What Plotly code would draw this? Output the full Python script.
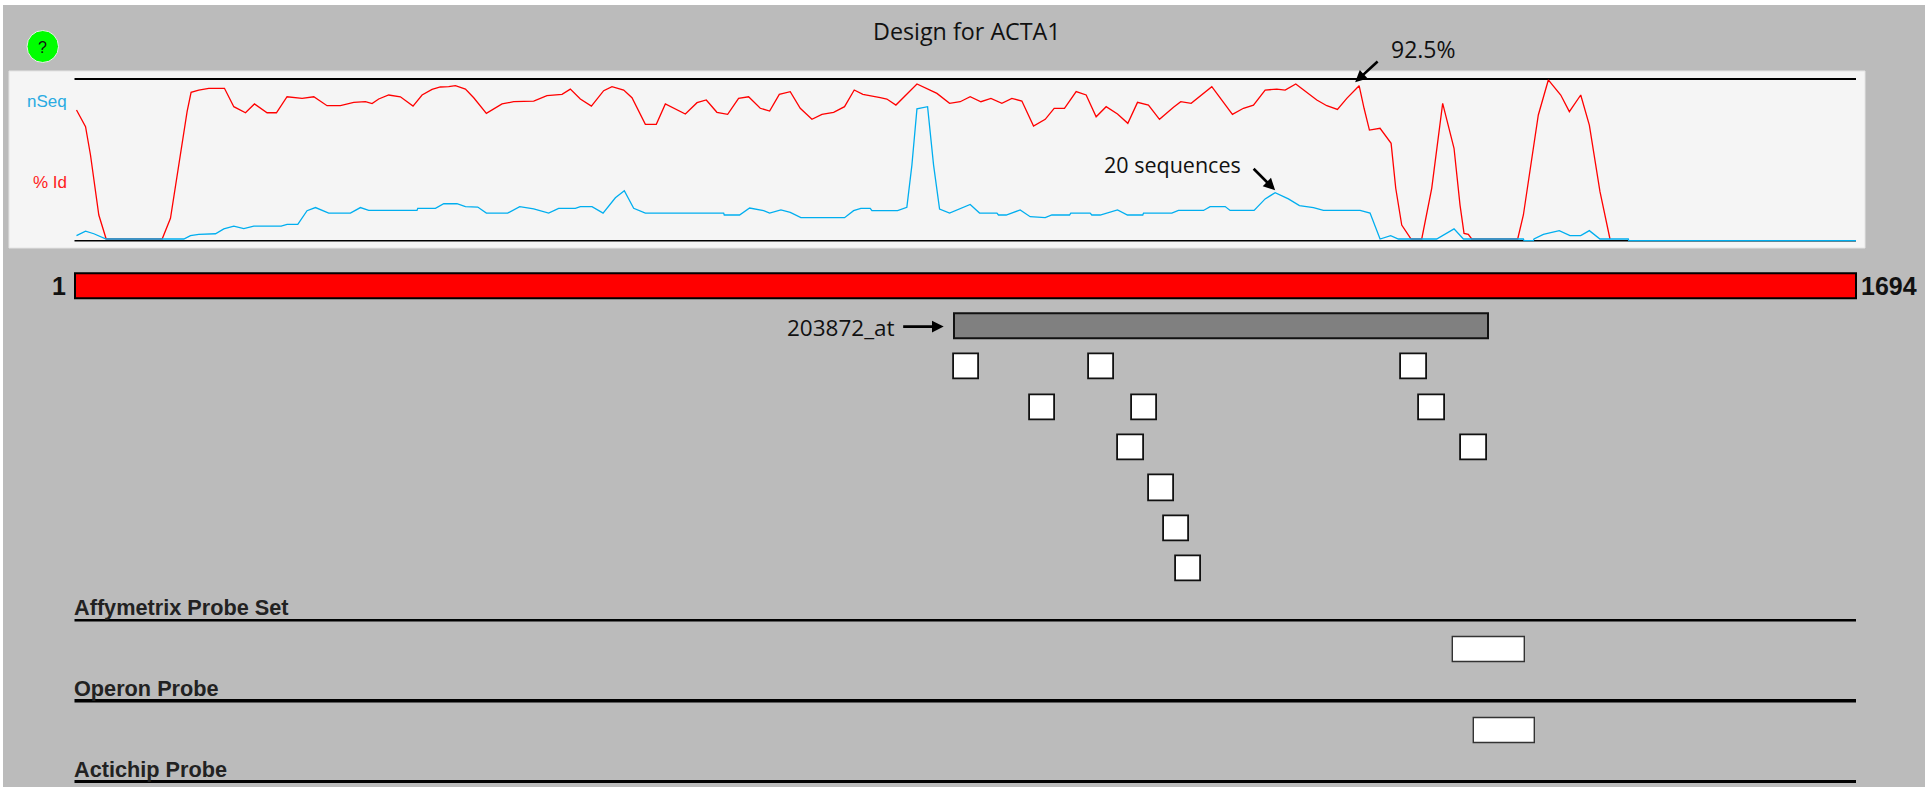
import plotly.graph_objects as go

W, H = 1930, 787

id_pos = [2.9,11.5,16.2,21,24.1,31.1,84.3,92.2,97.9,103.3,108,111.8,119.1,128.6,143.5,152.4,163.5,172,184,192.9,203,217.3,228.4,241,253.7,266.4,277.5,283.8,290.1,299.6,
 310.7,322.7,331.3,340.8,348.7,356.6,363,372.5,380.4,392.4,407.3,418.4,437.4,450,464.3,472.2,481.7,492.2,503.9,511.8,522.9,530.8,543.5,553.9,562.5,581.5,592.6,601.4,
 611.5,621.7,632.1,641.6,652.7,661.6,670.8,681.2,690.7,701.8,711.3,722.4,732.8,742,750.2,766.7,773,781.6,801.6,820.6,832.6,842.7,852.2,862.4,871.9,882.3,891.8,901.3,
 909.2,912.4,923.5,932,941.8,952.9,962.4,971.9,981.4,992.2,1002,1011.2,1021.6,1032.1,1045.4,1052.3,1062.2,1081.8,1101.4,1111.9,1121.4,1132.5,1143.6,1151.5,1161.6,1181.6,1191.1,1201.2,1210.1,
 1221.8,1226.5,1231.6,1241.7,1252.2,1256.6,1262.3,1271.2,1281.3,1290.8,1297.1,1301.2,1312,1317.7,1321.5,1325.6,1328.8,1372.5,1377.9,1386.7,1392.1,1401.6,1413.4,1421.6,1432.4,1440.6,1450.7,1460.2]
id_pct = [80.6,70.2,52.5,29.6,15,0,0,12.9,37.9,60.8,79.6,91.7,93.1,94.2,94.2,82.7,78.9,84.4,78.9,78.9,88.9,87.9,88.9,83.3,83.3,85.4,85.8,84.6,87.5,90,
 88.9,83.1,90,93.5,95,95.2,95.8,93.7,88.3,78.5,84.4,85.8,86.2,89.6,90.4,93.7,87.5,83.1,92.7,95.2,93.1,88.3,71.7,71.7,84.4,78.1,85.2,86.9,
 79.2,77.9,87.9,88.9,81.7,80,90.4,92.1,81.7,74.8,77.9,79.2,82.7,93.1,90.4,88.3,87.5,83.7,96.9,91,84.8,85.8,88.9,85.8,87.9,84.8,87.9,86.2,
 75.4,70.6,74.8,81.7,81.7,92.1,90,76.4,82.7,78.1,72.3,85.4,83.7,74.8,82.3,85.8,84.8,95.2,77.9,81.7,83.7,93.1,93.7,93.1,96.9,86.9,83.3,81,87.9,
 95.8,81.7,68.1,69.2,59.8,31.7,8.7,0,0,31.7,62.9,84.8,56.7,21.2,3.5,2.9,0,0,15,54.6,77.5,99.4,90,79.6,90,71.2,29.6,0]

seq_pos = [2.9,11.5,19.4,31.1,104.9,111.2,119.1,135,142.9,152.4,161.9,171.4,197.4,203,213.2,222,230,242.6,263.2,272.7,280.6,
 301.2,326.5,327.2,344,351.9,364.5,372.5,384.2,392.4,412.7,424.1,437.4,451.6,461.1,477,481.7,492.8,503.3,515,523.5,532.4,543.5,
 605.2,617.9,618.5,633,642.6,655.9,661.6,672.3,681.2,691.3,732.8,741.4,748.3,757.2,758.8,783.2,792,796.8,801.6,811.7,817.4,823.1,832.6,852.2,861.1,877.6,879.1,886.4,899.7,
 909.2,923.5,929.8,946.6,947.8,966.2,967.8,975.7,992.2,1001.7,1016.2,1016.9,1043.8,1050.1,1073.9,1080.2,1094.5,1099.2,1122,1132.5,1142,1154.6,1165.1,1178.4,1187.9,
 1213.2,1222.7,1232.2,1241.7,1251.8,1259.1,1295.5,1312,1320.9,1377.9,1378.5,1387.4,1388,1396.9,1412,1422.2,1432.4,1440.6,1450.7,1477.6,1478,1694]
seq_n = [2.1,4,2.9,0.7,0.7,2.1,2.6,2.9,4.9,6.1,5,6.1,6.1,6.8,6.8,12.5,13.8,11.5,11.5,13.8,12.6,
 12.6,12.6,13.5,13.5,15.4,15.4,14.2,14,11.5,11.5,14.2,13.3,11.5,13.5,13.5,14.2,14.2,11.5,17.9,20.8,13.5,11.5,
 11.5,11.5,10.7,10.7,13.6,12.5,11.5,12.8,11.8,9.6,9.6,12.5,13.5,13.5,12.5,12.5,13.9,31.5,54.9,55.8,31.5,13.2,11.5,15.1,11.5,11.5,10.7,10.7,12.8,
 10,9.6,10.7,10.7,11.5,11.5,10.7,10.7,12.8,10.7,10.7,11.5,11.5,12.6,12.6,14.2,14.2,12.6,12.6,17.4,20,17.4,14.6,13.8,12.6,
 12.6,12.6,11.5,0.7,2.1,0.7,0.7,4.9,0.7,0.7,0,0,0.7,2.6,4.2,2.1,2.1,4.2,0.7,0.7,0,0]

gene_start, gene_len, gene_lane = [1], [1693], [-1]
set_start, set_len, set_lane = [837], [507], [0]
probe_start = [837, 965, 1262, 909, 1006, 1279, 993, 1319, 1022, 1036, 1048]
probe_len = [24] * 11
probe_lane = [1.02, 1.02, 1.02, 2.02, 2.02, 2.02, 3.02, 3.02, 4.02, 5.02, 6.02]
other_start = [1311, 1331]
other_len = [68, 58]
other_lane = [8.02, 10.02]

section_names = ["Affymetrix Probe Set", "Operon Probe", "Actichip Probe"]
section_lanes = [7.29, 9.28, 11.28]
section_widths = [2.5, 3.5, 3]

BLACK = "#000000"
PX_PER_BASE = 1.0523
X0 = 70; X1 = 1860
Y0 = 76; Y1 = 244


def px(v):
    return v / W


def py(v):
    return 1 - v / H


fig = go.Figure()

fig.add_trace(go.Scatter(x=[1, 1694], y=[100, 100], xaxis="x", yaxis="y", mode="lines",
                         line=dict(color=BLACK, width=1.8), hoverinfo="skip"))
fig.add_trace(go.Scatter(x=[1, 1694], y=[0, 0], xaxis="x", yaxis="y2", mode="lines",
                         line=dict(color=BLACK, width=1.4), hoverinfo="skip"))
fig.add_trace(go.Scatter(x=id_pos, y=id_pct, xaxis="x", yaxis="y", mode="lines",
                         line=dict(color="#ff0000", width=1.3), name="% Id"))
fig.add_trace(go.Scatter(x=seq_pos, y=seq_n, xaxis="x", yaxis="y2", mode="lines",
                         line=dict(color="#00aeef", width=1.3), name="nSeq"))


def track(starts, lens, lanes, fill, edge, lw):
    fig.add_trace(go.Bar(orientation="h", base=starts, x=lens, y=lanes, width=0.62,
                         xaxis="x", yaxis="y3",
                         marker=dict(color=fill, line=dict(color=edge, width=lw))))


track(gene_start, gene_len, gene_lane, "#ff0000", "#000000", 2)
track(set_start, set_len, set_lane, "#808080", "#111111", 2)
track(probe_start, probe_len, probe_lane, "#ffffff", "#111111", 1.8)
track(other_start, other_len, other_lane, "#ffffff", "#333333", 1.4)

for lane, lw in zip(section_lanes, section_widths):
    fig.add_trace(go.Scatter(x=[1, 1694], y=[lane, lane], xaxis="x", yaxis="y3", mode="lines",
                             line=dict(color=BLACK, width=lw), hoverinfo="skip"))

annotations = []


def label(x, y, text, size, color="#000000", family="Liberation Sans", anchor="left", bold=False):
    annotations.append(dict(xref="paper", yref="paper", x=px(x), y=py(y), text=f"<b>{text}</b>" if bold else text,
                            showarrow=False, xanchor=anchor, yanchor="middle",
                            font=dict(size=size, color=color, family=family),
                            borderpad=0, borderwidth=0))


BODY = "Open Sans"
label(967, 31, "Design for ACTA1", 23.3, "#111111", BODY, "center")
label(1423, 49, "92.5%", 23, "#111111", BODY, "center")
label(1172, 164, "20 sequences", 21.5, "#111111", BODY, "center")
label(841, 327, "203872_at", 22.5, "#111111", BODY, "center")
label(67, 102, "nSeq", 17, "#29abe2", "Liberation Sans", "right")
label(67, 182, "% Id", 17, "#ff2020", "Liberation Sans", "right")
label(66, 286, "1", 25, "#111111", "Liberation Sans", "right", True)
label(1889, 286, "1694", 25, "#111111", "Liberation Sans", "center", True)
label(42.5, 47, "?", 16, "#111111", "Liberation Sans", "center")

for name, lane in zip(section_names, section_lanes):
    annotations.append(dict(xref="x", yref="y3", x=1, y=lane, xshift=-2, yshift=-1, text=f"<b>{name}</b>",
                            showarrow=False, xanchor="left", yanchor="bottom", borderpad=0,
                            font=dict(size=21.7, color="#222222", family="Liberation Sans")))

arrow = dict(text="", showarrow=True, arrowhead=2, arrowsize=0.9, arrowwidth=2.6, arrowcolor="#000000", axref="pixel", ayref="pixel")
annotations.append(dict(xref="x", yref="y", x=1218, y=98, ax=24, ay=-22, **arrow))
annotations.append(dict(xref="x", yref="y2", x=1142, y=21, ax=-23, ay=-23, **arrow))
annotations.append(dict(xref="x", yref="y3", x=827, y=0.02, ax=-42, ay=0, **arrow))

shapes = [
    dict(type="rect", xref="paper", yref="paper", x0=px(3), x1=px(1925), y0=py(5), y1=0,
         fillcolor="#bbbbbb", line=dict(width=0), layer="below"),
    dict(type="rect", xref="paper", yref="paper", x0=px(9), x1=px(1865), y0=py(71), y1=py(248),
         fillcolor="#f5f5f5", line=dict(color="#e4e4e4", width=1), layer="below"),
    dict(type="circle", xref="paper", yref="paper", x0=px(27), x1=px(58.5), y0=py(30.5), y1=py(62.5),
         fillcolor="#00ff00", line=dict(color="#eeeeee", width=1), layer="below"),
]

fig.update_layout(
    width=W, height=H, margin=dict(l=0, r=0, t=0, b=0), autosize=False,
    paper_bgcolor="#ffffff", plot_bgcolor="rgba(0,0,0,0)",
    showlegend=False, barmode="overlay", bargap=0,
    annotations=annotations, shapes=shapes,
    xaxis=dict(domain=[px(X0), px(X1)], range=[1 - 4.5 / PX_PER_BASE, 1694 + 4 / PX_PER_BASE], visible=False, fixedrange=True),
    yaxis=dict(domain=[py(Y1), py(Y0)], range=[-3.125, 101.875], visible=False, fixedrange=True),
    yaxis2=dict(domain=[py(Y1), py(Y0)], range=[-1.375, 68.6], visible=False, fixedrange=True, anchor="x", overlaying="y"),
    yaxis3=dict(domain=[0, py(265.2)], range=[11.416, -1.5], visible=False, fixedrange=True, anchor="x"),
)

fig.write_html("out.html", config=dict(displayModeBar=False),
               post_script="document.body.style.margin='0';document.documentElement.style.overflow='hidden';")
